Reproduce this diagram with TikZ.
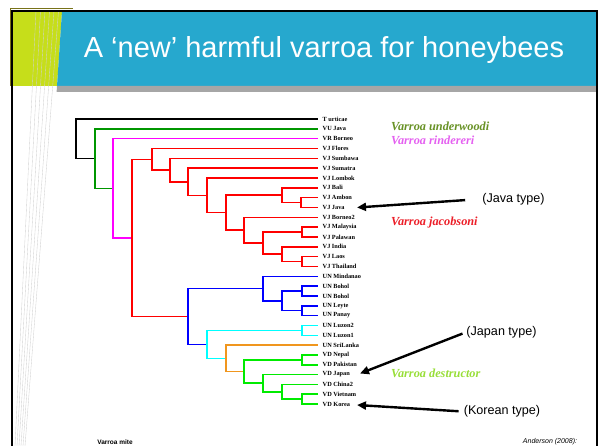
\documentclass[tikz,border=0pt]{standalone}
\usepackage{fontspec}
\setmainfont{Liberation Sans}
\newfontfamily\treefont{Liberation Serif}
\usetikzlibrary{arrows.meta}

\definecolor{headblue}{RGB}{38,168,206}
\definecolor{headlime}{RGB}{198,222,26}
\definecolor{vugreen}{RGB}{0,150,0}
\definecolor{vrmagenta}{RGB}{255,0,255}
\definecolor{vjred}{RGB}{255,0,0}
\definecolor{unblue}{RGB}{0,0,255}
\definecolor{uncyan}{RGB}{0,255,255}
\definecolor{unorange}{RGB}{240,150,30}
\definecolor{vdgreen}{RGB}{0,235,0}
\definecolor{underwoodicol}{RGB}{104,146,38}
\definecolor{rinderericol}{RGB}{228,96,240}
\definecolor{jacobsonicol}{RGB}{236,30,40}
\definecolor{destructorcol}{RGB}{152,222,56}

\begin{document}
\begin{tikzpicture}[x=1pt, y=-1pt,
  branch/.style={line width=1.5pt},
  leaf/.style={font=\treefont\bfseries\fontsize{6.3}{7}\selectfont, inner xsep=4.5pt, inner ysep=0pt},
  species/.style={anchor=base west, inner sep=0pt, font=\treefont\bfseries\itshape\fontsize{12.3}{14}\selectfont},
  note/.style={font=\fontsize{12.6}{15}\selectfont, inner sep=1pt},
  pointer/.style={-{Triangle[length=9pt,width=8pt]}, line width=2.4pt}]
  \useasboundingbox (0,0) rectangle (602,446);
  % slide header
  \fill[headlime] (12,11) -- (62,11) -- (57,86) -- (12,86) -- cycle;
  \fill[headblue] (62,11) -- (597,11) -- (597,86) -- (57,86) -- cycle;
  \fill[black!35] (57,86) -- (597,86) -- (597,92) -- (56.6,92) -- cycle;
  \foreach \k in {0,...,5}
    \draw[black!18, line width=.35pt] ({36+4.5*\k},11) -- ({15+2*\k},446);
  \draw[olive!80!black, line width=.6pt] (10,86) -- (10,8.5) -- (73,8.5);
  \draw[line width=1.8pt] (12,446) -- (12,11) -- (597,11) -- (597,446);
  \node[anchor=base, text=white, font=\fontsize{29}{34}\selectfont] (title) at (324,57.5) {A ‘new’ harmful varroa for honeybees};

  % leaves
  \foreach \nm/\txt [count=\i from 0] in {turt/T urticae, vujava/VU Java, vrborneo/VR Borneo,
      flores/VJ Flores, sumbawa/VJ Sumbawa, sumatra/VJ Sumatra, lombok/VJ Lombok, bali/VJ Bali,
      ambon/VJ Ambon, java/VJ Java, borneo2/VJ Borneo2, malaysia/VJ Malaysia, palawan/VJ Palawan,
      india/VJ India, laos/VJ Laos, thailand/VJ Thailand, mindanao/UN Mindanao, bohola/UN Bohol,
      boholb/UN Bohol, leyte/UN Leyte, panay/UN Panay, luzon2/UN Luzon2, luzon1/UN Luzon1,
      srilanka/UN SriLanka, nepal/VD Nepal, pakistan/VD Pakistan, japan/VD Japan, china2/VD China2,
      vietnam/VD Vietnam, korea/VD Korea}
    \coordinate[label={[leaf]right:\txt}] (\nm) at (318,{119+9.83*\i});

  % inner nodes of the tree
  \coordinate (root) at (76,138.8);
  \coordinate (g) at (95,158.6);
  \coordinate (m) at (113,188.3);
  \coordinate (r) at (132,237.9);
  \coordinate (r1) at (152,159.3);
  \coordinate (r2) at (170,170);
  \coordinate (r3) at (188,181.8);
  \coordinate (r4) at (207,195.4);
  \coordinate (r5) at (226,212.7);
  \coordinate (r6) at (282,195.2);
  \coordinate (aj) at (301,202.5);
  \coordinate (r7) at (244,230.2);
  \coordinate (r8) at (263,243.1);
  \coordinate (mp) at (302,232);
  \coordinate (r10) at (282,254.2);
  \coordinate (lt) at (302,261.5);
  \coordinate (b) at (188,316.5);
  \coordinate (b1) at (263,288.6);
  \coordinate (b2) at (282,300.9);
  \coordinate (bb) at (302,291);
  \coordinate (lp) at (302,310.7);
  \coordinate (c) at (207,344.4);
  \coordinate (lz) at (302,330.4);
  \coordinate (o) at (226,358.3);
  \coordinate (d1) at (244,371.5);
  \coordinate (np) at (302,359.9);
  \coordinate (d2) at (263,383.2);
  \coordinate (d3) at (282,391.8);
  \coordinate (vk) at (302,399.2);

  % branches
  \foreach \p/\c in {root/turt, root/g} \draw[branch, black] (\p) |- (\c);
  \foreach \p/\c in {g/vujava, g/m} \draw[branch, vugreen] (\p) |- (\c);
  \foreach \p/\c in {m/vrborneo, m/r} \draw[branch, vrmagenta] (\p) |- (\c);
  \foreach \p/\c in {r/r1, r/b, r1/flores, r1/r2, r2/sumbawa, r2/r3, r3/sumatra, r3/r4,
      r4/lombok, r4/r5, r5/r6, r5/r7, r6/bali, r6/aj, aj/ambon, aj/java, r7/borneo2, r7/r8,
      r8/mp, r8/r10, mp/malaysia, mp/palawan, r10/india, r10/lt, lt/laos, lt/thailand}
    \draw[branch, vjred] (\p) |- (\c);
  \foreach \p/\c in {b/b1, b/c, b1/mindanao, b1/b2, b2/bb, b2/lp, bb/bohola, bb/boholb,
      lp/leyte, lp/panay}
    \draw[branch, unblue] (\p) |- (\c);
  \foreach \p/\c in {c/lz, c/o, lz/luzon2, lz/luzon1} \draw[branch, uncyan] (\p) |- (\c);
  \foreach \p/\c in {o/srilanka, o/d1} \draw[branch, unorange] (\p) |- (\c);
  \foreach \p/\c in {d1/np, d1/d2, np/nepal, np/pakistan, d2/japan, d2/d3, d3/china2, d3/vk,
      vk/vietnam, vk/korea}
    \draw[branch, vdgreen] (\p) |- (\c);

  % species names
  \node[species, text=underwoodicol] (underwoodi) at (391,130.5) {Varroa underwoodi};
  \node[species, text=rinderericol] (rindereri) at (391,145) {Varroa rindereri};
  \node[species, text=jacobsonicol] (jacobsoni) at (391,226) {Varroa jacobsoni};
  \node[species, text=destructorcol] (destructor) at (391,377.5) {Varroa destructor};

  % types
  \node[note] (javatype) at (513.5,199) {(Java type)};
  \node[note] (japantype) at (501.5,332.5) {(Japan type)};
  \node[note] (koreatype) at (502,411.5) {(Korean type)};
  \coordinate (javatip) at (357,207.5);
  \coordinate (japantip) at (360,373.5);
  \coordinate (koreatip) at (357,405);
  \draw[pointer, shorten <=16pt] (javatype.west) -- (javatip);
  \draw[pointer, shorten <=3pt] (japantype.west) -- (japantip);
  \draw[pointer, shorten <=4pt] (koreatype.west) -- (koreatip);

  \node[anchor=base, font=\bfseries\fontsize{6.5}{8}\selectfont] (mite) at (115,444) {Varroa mite};
  \node[anchor=base, font=\itshape\fontsize{7}{8}\selectfont] (source) at (550,443.5) {Anderson (2008):};
\end{tikzpicture}
\end{document}
